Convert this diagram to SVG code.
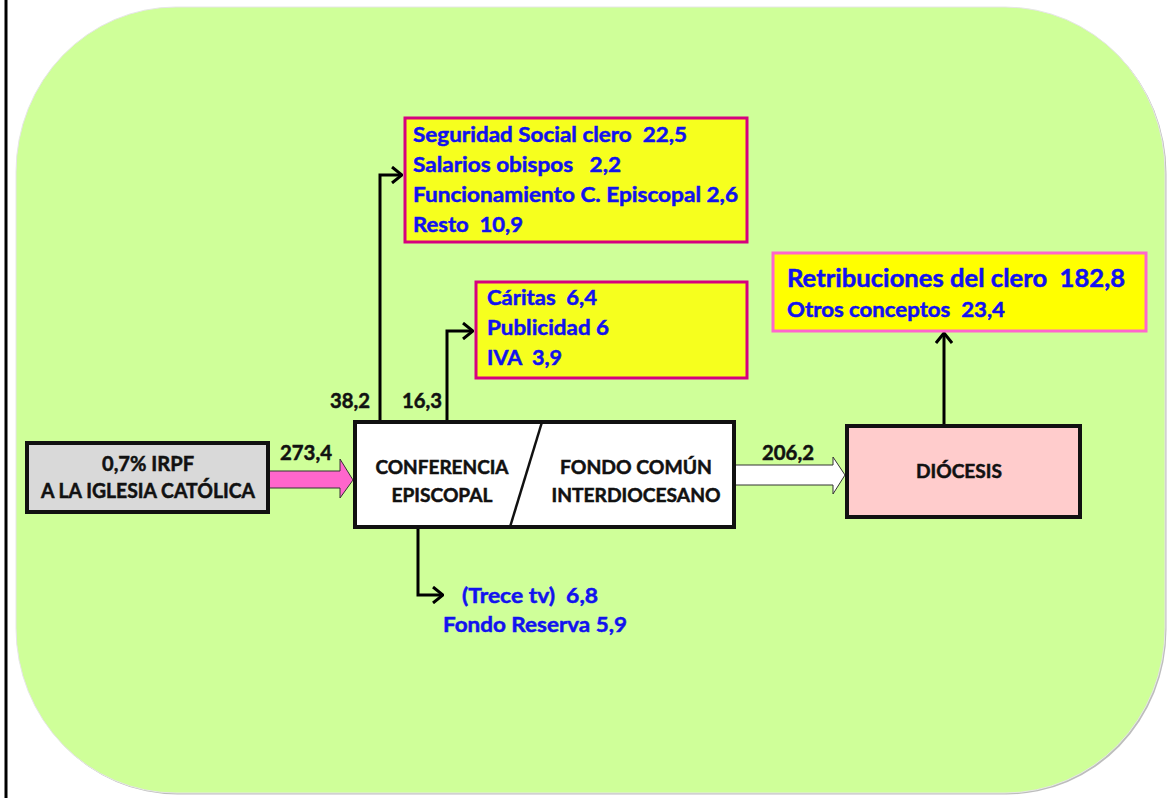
<svg xmlns="http://www.w3.org/2000/svg" width="1176" height="798" viewBox="0 0 1176 798">
<style>
text{font-family:Lato,"Open Sans","Liberation Sans",sans-serif;font-weight:bold;white-space:pre;stroke-width:0.5}
.blk{fill:#111;stroke:#111}
.blu{fill:#1212EE;stroke:#1212EE}
.c{text-anchor:middle}
.box{stroke:#111;stroke-width:4}
.ybox{fill:#F6FF1E;stroke:#D6007F;stroke-width:3}
.con{fill:none;stroke:#000;stroke-width:3}
</style>
<defs>
<marker id="chev" viewBox="0 0 12 18" refX="11" refY="9" markerWidth="12" markerHeight="18" markerUnits="userSpaceOnUse" orient="auto">
<path d="M1,1 L11,9 L1,17" fill="none" stroke="#000" stroke-width="3"/>
</marker>
</defs>
<rect x="0" y="0" width="1176" height="798" fill="#fff"/>
<line x1="6" y1="0" x2="6" y2="798" stroke="#000" stroke-width="3"/>
<g id="background">
<rect x="17.5" y="8.5" width="1149" height="786" rx="160" ry="165" fill="#BDBDBD"/>
<rect x="16" y="7" width="1149" height="786" rx="160" ry="165" fill="#CFFF99" stroke="#E6E6E6" stroke-width="1"/>
</g>
<g id="connectors">
<polyline class="con" points="380,422 380,175 402,175" marker-end="url(#chev)"/>
<polyline class="con" points="447,422 447,331 473,331" marker-end="url(#chev)"/>
<polyline class="con" points="418,527 418,595 443,595" marker-end="url(#chev)"/>
<line class="con" x1="944" y1="425" x2="944" y2="333" marker-end="url(#chev)"/>
<path d="M268,471 L340,471 L340,459 L353,480 L340,498 L340,488 L268,488 Z" fill="#FF66CC" stroke="#333" stroke-width="1"/>
<path d="M734,465 L833,465 L833,457 L845,475 L833,494 L833,485 L734,485 Z" fill="#fff" stroke="#333" stroke-width="1"/>
<text class="blk" x="280" y="460" font-size="20" textLength="52" lengthAdjust="spacingAndGlyphs">273,4</text>
<text class="blk" x="762" y="460" font-size="20" textLength="52" lengthAdjust="spacingAndGlyphs">206,2</text>
<text class="blk" x="330" y="408" font-size="20" textLength="40" lengthAdjust="spacingAndGlyphs">38,2</text>
<text class="blk" x="402" y="408" font-size="20" textLength="40" lengthAdjust="spacingAndGlyphs">16,3</text>
</g>
<g id="irpf">
<rect class="box" x="27" y="443" width="241" height="69" fill="#D9D9D9"/>
<text class="blk c" x="148" y="471" font-size="20" textLength="92" lengthAdjust="spacingAndGlyphs">0,7% IRPF</text>
<text class="blk c" x="148" y="498" font-size="20" textLength="214" lengthAdjust="spacingAndGlyphs">A LA IGLESIA CATÓLICA</text>
</g>
<g id="conferencia">
<rect class="box" x="355" y="422" width="379" height="105" fill="#fff"/>
<line x1="542" y1="422" x2="510" y2="527" stroke="#111" stroke-width="2.5"/>
<text class="blk c" x="442" y="474" font-size="19" textLength="133" lengthAdjust="spacingAndGlyphs">CONFERENCIA</text>
<text class="blk c" x="442" y="502" font-size="19" textLength="101" lengthAdjust="spacingAndGlyphs">EPISCOPAL</text>
<text class="blk c" x="636" y="474" font-size="19" textLength="152" lengthAdjust="spacingAndGlyphs">FONDO COMÚN</text>
<text class="blk c" x="636" y="502" font-size="19" textLength="169" lengthAdjust="spacingAndGlyphs">INTERDIOCESANO</text>
</g>
<g id="diocesis">
<rect class="box" x="847" y="426" width="233" height="91" fill="#FFCCCC"/>
<text class="blk c" x="959" y="478" font-size="19" textLength="86" lengthAdjust="spacingAndGlyphs">DIÓCESIS</text>
</g>
<g id="gastos-ce">
<rect class="ybox" x="405" y="118" width="342" height="124"/>
<text class="blu" x="413" y="142" font-size="21" textLength="274" lengthAdjust="spacingAndGlyphs">Seguridad Social clero  22,5</text>
<text class="blu" x="413" y="172" font-size="21" textLength="208" lengthAdjust="spacingAndGlyphs">Salarios obispos   2,2</text>
<text class="blu" x="413" y="202" font-size="21" textLength="325" lengthAdjust="spacingAndGlyphs">Funcionamiento C. Episcopal 2,6</text>
<text class="blu" x="413" y="232" font-size="21" textLength="110" lengthAdjust="spacingAndGlyphs">Resto  10,9</text>
</g>
<g id="gastos-fci">
<rect class="ybox" x="476" y="282" width="271" height="96"/>
<text class="blu" x="487" y="305" font-size="21" textLength="110" lengthAdjust="spacingAndGlyphs">Cáritas  6,4</text>
<text class="blu" x="487" y="335" font-size="21" textLength="122" lengthAdjust="spacingAndGlyphs">Publicidad 6</text>
<text class="blu" x="487" y="365" font-size="21" textLength="75" lengthAdjust="spacingAndGlyphs">IVA  3,9</text>
</g>
<g id="retribuciones">
<rect x="773" y="253" width="373" height="78" fill="#FFFF00" stroke="#FF66CC" stroke-width="3"/>
<text class="blu" x="787" y="287" font-size="25" textLength="338" lengthAdjust="spacingAndGlyphs">Retribuciones del clero  182,8</text>
<text class="blu" x="787" y="317" font-size="21" textLength="218" lengthAdjust="spacingAndGlyphs">Otros conceptos  23,4</text>
</g>
<g id="trece">
<text class="blu" x="462" y="603" font-size="21" textLength="136" lengthAdjust="spacingAndGlyphs">(Trece tv)  6,8</text>
<text class="blu" x="443" y="632" font-size="21" textLength="184" lengthAdjust="spacingAndGlyphs">Fondo Reserva 5,9</text>
</g>
</svg>
